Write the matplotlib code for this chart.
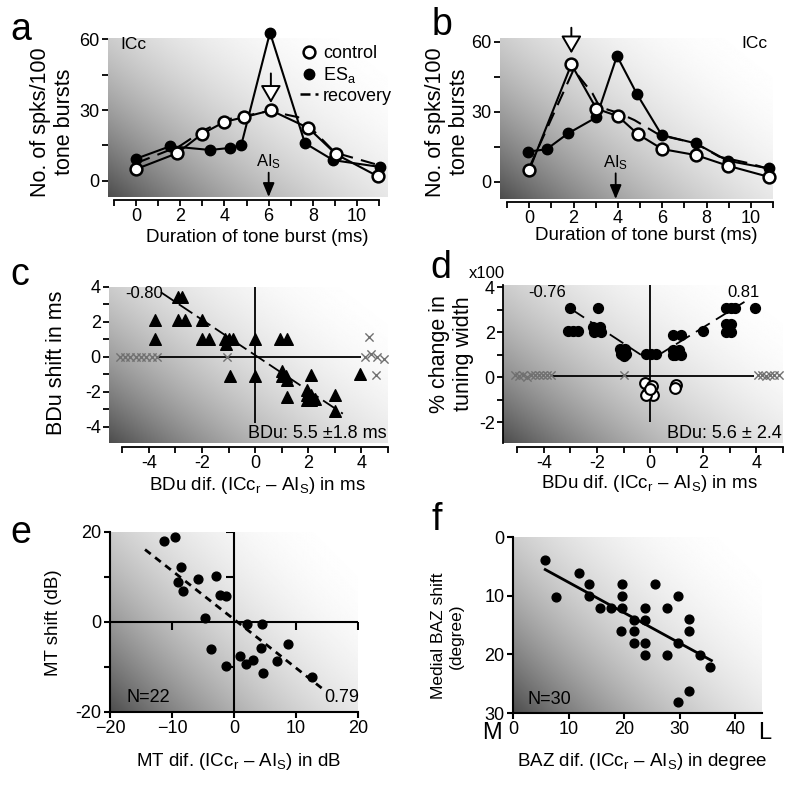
import numpy as np
import matplotlib
matplotlib.use('Agg')
import matplotlib.pyplot as plt
from matplotlib.lines import Line2D

plt.rcParams['font.family'] = 'Liberation Sans'
plt.rcParams['mathtext.fontset'] = 'custom'
plt.rcParams['mathtext.rm'] = 'Liberation Sans'
plt.rcParams['mathtext.it'] = 'Liberation Sans:italic'
plt.rcParams['mathtext.bf'] = 'Liberation Sans:bold'

# ---- panel a: tuning curves (spikes per 100 tone bursts vs duration)
a_x_ctrl = [0, 1.85, 3, 4, 4.9, 6.1, 7.8, 9.05, 10.95]
a_y_ctrl = [5, 11.7, 20, 25, 27, 29.9, 22.4, 11.3, 1.9]
a_x_es = [0, 1.55, 3.35, 4.27, 4.76, 6.06, 7.64, 8.92, 11.05]
a_y_es = [9.4, 14.7, 13.1, 14, 15.2, 62.8, 16, 8.8, 5.9]
a_x_rec = [0, 2.0, 3.05, 4.1, 5.07, 6.02, 7.33, 7.8, 9.0, 10.9]
a_y_rec = [7.5, 14.9, 21.4, 26, 27.8, 29.6, 27, 23.5, 12, 6.9]
a_best = 6.1          # open arrow (best duration)
a_best_y = [45.5, 33]
a_ais = 6.0           # AIs best duration
a_ais_y = [3.5, -6.8]

# ---- panel b
b_x_ctrl = [0, 1.9, 3.03, 4.0, 4.9, 6.0, 7.53, 8.95, 10.8]
b_y_ctrl = [5, 50.3, 31.3, 28.1, 20.4, 14, 11.4, 6.9, 2.1]
b_x_es = [-0.07, 0.78, 1.75, 3.03, 3.96, 4.87, 5.98, 7.53, 8.95, 10.8]
b_y_es = [12.9, 13.9, 20.7, 27.6, 53.9, 37.4, 20, 16.4, 9, 5.7]
b_x_rec = [0, 2.0, 2.85, 3.18, 4.08, 4.75, 5.88, 7.5, 8.58, 9.93, 10.8]
b_y_rec = [6, 48, 37.9, 32, 29.3, 26.4, 20, 16.5, 10.7, 7.9, 5.5]
b_best = 1.9
b_best_y = [66, 55]
b_ais = 3.9
b_ais_y = [3.6, -7.4]

# ---- panel c: BDu shift vs BDu difference
c_x_tri = [-3.75, -3.75, -2.9, -2.75, -2.9, -2.65, -2.0, -2.0, -1.75, -1.15, -1.0,
           -0.85, -1.1, -0.95, 0.0, 0.0, 0.95, 1.2, 1.0, 1.0, 1.15, 1.2, 1.2,
           1.95, 2.1, 1.95, 2.1, 1.95, 2.1, 2.25, 3.0, 3.0, 3.95]
c_y_tri = [2.1, 1.0, 3.4, 3.4, 2.1, 2.1, 2.1, 1.05, 1.05, 1.05, 1.05,
           1.05, 0.75, -1.1, 1.0, -1.1, 1.0, 1.0, -0.8, -1.1, -1.1, -1.35, -2.3,
           -1.9, -1.05, -2.2, -2.2, -2.45, -2.45, -2.4, -2.2, -3.1, -1.0]
c_x_cross = [-5.1, -4.9, -4.7, -4.5, -4.3, -4.1, -3.9, -3.7, -1.05,
             4.15, 4.35, 4.6, 4.85, 4.3, 4.55]
c_y_cross = [0, 0, 0, 0, 0, 0, 0, 0, 0, 0, 0.15, 0, -0.1, 1.15, -1.05]
c_fit_x = [-3.55, 3.3]
c_fit_y = [3.7, -3.25]

# ---- panel d: % change in tuning width
d_x_fill = [-3.0, -1.96, -3.1, -2.9, -2.7, -2.15, -1.9, -2.1, -1.85, -2.0,
            -1.15, -0.95, -1.1, -0.9, -1.0, -0.15, 0.04, 0.22, 0.85, 1.15,
            0.85, 1.1, 0.95, 0.85, 1.15, 2.0, 2.85, 3.05, 3.2, 2.85, 3.05,
            2.95, 2.85, 3.05, 3.95]
d_y_fill = [3.1, 3.1, 2.05, 2.05, 2.05, 2.25, 2.25, 2.0, 2.0, 2.15,
            1.25, 1.25, 1.05, 1.05, 0.95, 1.05, 1.05, 1.05, 1.9, 1.9,
            1.2, 1.2, 1.0, 1.0, 1.0, 2.05, 3.1, 3.1, 3.1, 2.35, 2.35,
            2.15, 2.0, 2.0, 3.1]
d_x_open = [-0.2, 0.05, -0.1, 0.1, -0.15, 0.0, 0.97, 0.95]
d_y_open = [-0.27, -0.4, -0.64, -0.79, -0.79, -0.5, -0.34, -0.49]
d_x_cross = [-5.1, -4.95, -4.8, -4.65, -4.5, -4.35, -4.2, -4.05, -3.9, -3.75,
             -1.0, 4.05, 4.2, 4.35, 4.5, 4.65, 4.85]
d_y_cross = [0.12, 0.05, 0.1, 0.0, 0.1, 0.08, 0.1, 0.1, 0.1, 0.1,
             0.08, 0.1, 0.1, 0.05, 0.1, 0.1, 0.08]
d_fit_lx = [-3.0, -0.35]
d_fit_ly = [3.05, 1.0]
d_fit_rx = [0.22, 3.55]
d_fit_ry = [0.92, 3.35]

# ---- panel e: MT shift vs MT difference
e_x = [-11.3, -9.5, -8.5, -9.1, -8.3, -5.8, -2.85, -2.3, -1.24, -4.7, -3.66,
       -1.24, 0.97, 2.04, 1.94, 3.0, 4.5, 4.4, 4.6, 6.9, 8.7, 12.5]
e_y = [18, 19, 12.2, 8.9, 7.0, 9.6, 10.2, 6.1, 5.8, 1.0, -6,
       -9.85, -7.6, -0.5, -9.3, -8.4, -0.5, -5.7, -11.3, -8.7, -4.8, -12.2]
e_fit_x = [-14.35, 14.25]
e_fit_y = [16.1, -14.8]

# ---- panel f: medial BAZ shift vs BAZ difference
f_x = [5.7, 7.7, 11.8, 13.7, 13.7, 15.7, 17.6, 19.7, 19.7, 19.7, 19.5, 21.7,
       21.7, 21.7, 23.7, 23.7, 23.7, 23.7, 25.6, 27.7, 27.7, 29.6, 29.6, 29.6,
       31.7, 31.7, 31.7, 33.7, 35.5]
f_y = [4.0, 10.2, 6.1, 8.0, 10.1, 12.1, 12.1, 8.0, 10.1, 12.1, 16.1, 14.1,
       16.1, 18.1, 12.1, 14.1, 18.1, 20.1, 8.0, 12.1, 20.1, 10.1, 18.1, 28.1,
       14.0, 16.1, 26.2, 20.1, 22.2]
f_fit_x = [5.8, 35.7]
f_fit_y = [5.55, 21.05]

W, H = 800, 788
fig = plt.figure(figsize=(8, 7.88), dpi=100)


def box(l, t, r, b):
    return fig.add_axes([l / W, 1 - b / H, (r - l) / W, (b - t) / H])


def shade(ax):
    # dark bottom-left corner fading smoothly to white at top-right
    u, w = np.meshgrid(np.linspace(0, 1, 300), np.linspace(0, 1, 300))
    d = 0.58 * (1 - u) + 0.42 * (1 - w)
    g = 1 - 0.7 * d ** 2.3
    ax.imshow(g, extent=[0, 1, 0, 1], transform=ax.transAxes, origin='lower',
              cmap='gray', vmin=0, vmax=1, aspect='auto', zorder=0,
              interpolation='bilinear')


def ftext(x, y, s, **kw):
    fig.text(x / W, 1 - y / H, s, **kw)


SUB = 'ICc$_\\mathrm{r}$ \u2013 AI$_\\mathrm{S}$'


def tuning(ax, xc, yc, xe, ye, xr, yr, xlim, ylim, best, best_y, ais, ais_y):
    shade(ax)
    ax.plot(xr, yr, color='black', lw=1.5, dashes=(7, 4), zorder=2, clip_on=False)
    ax.plot(xe, ye, color='black', lw=1.5, marker='o', ms=7.5, zorder=3, clip_on=False)
    ax.plot(xc, yc, color='black', lw=1.5, marker='o', ms=8.5, mfc='white',
            mec='black', mew=1.8, zorder=4, clip_on=False)
    ax.annotate('', xy=(best, best_y[1]), xytext=(best, best_y[0]),
                arrowprops=dict(arrowstyle='-|>,head_width=0.35,head_length=0.6',
                                facecolor='white', edgecolor='black', lw=1.4,
                                mutation_scale=18, shrinkA=0, shrinkB=0),
                annotation_clip=False, zorder=5)
    ax.annotate('', xy=(ais, ais_y[1]), xytext=(ais, ais_y[0]),
                arrowprops=dict(arrowstyle='-|>,head_width=0.25,head_length=0.6',
                                facecolor='black', edgecolor='black', lw=1.3,
                                mutation_scale=14, shrinkA=0, shrinkB=0), zorder=5)
    ax.text(ais, ais_y[0] + 4.5, 'AI$_\\mathrm{S}$', ha='center', va='center', fontsize=12)
    ax.set_xlim(*xlim)
    ax.set_ylim(*ylim)
    for s in ['top', 'right', 'left']:
        ax.spines[s].set_visible(False)
    ax.spines['bottom'].set_position(('outward', 2))
    ax.spines['bottom'].set_bounds(-1, 11)
    ax.spines['bottom'].set_linewidth(1.3)
    ax.set_xticks(range(-1, 12))
    ax.set_xticklabels(['' if v % 2 else str(v) for v in range(-1, 12)])
    ax.set_yticks([0, 15, 30, 45, 60])
    ax.set_yticklabels(['0', '', '30', '', '60'])
    ax.tick_params(direction='out', length=4, width=1.3, labelsize=13, pad=2)


# ---------------- a
ax = box(108, 38, 388, 197)
tuning(ax, a_x_ctrl, a_y_ctrl, a_x_es, a_y_es, a_x_rec, a_y_rec,
       (-1.27, 11.4), (-6.8, 60.5), a_best, a_best_y, a_ais, a_ais_y)
ax.text(0.043, 0.962, 'ICc', transform=ax.transAxes, va='center', fontsize=12.5)
handles = [Line2D([], [], ls='', marker='o', ms=8.5, mfc='white', mec='black', mew=1.8),
           Line2D([], [], ls='', marker='o', ms=7.5, color='black'),
           Line2D([], [], color='black', lw=1.8, dashes=(4, 2))]
ax.legend(handles, ['control', 'ES$_\\mathrm{a}$', 'recovery'], loc='upper right',
          bbox_to_anchor=(1.04, 1.0), frameon=False, fontsize=13, handlelength=1.0,
          handletextpad=0.3, labelspacing=0.15, borderaxespad=0)
ftext(52.5, 122, 'No. of spks/100\ntone bursts', rotation=90, ha='center', va='center',
      fontsize=15.5, linespacing=1.15)
ftext(257, 238, 'Duration of tone burst (ms)', ha='center', va='center', fontsize=13.5)

# ---------------- b
ax = box(500, 38, 773, 199)
tuning(ax, b_x_ctrl, b_y_ctrl, b_x_es, b_y_es, b_x_rec, b_y_rec,
       (-1.32, 11.0), (-7.4, 61.6), b_best, b_best_y, b_ais, b_ais_y)
ax.text(0.98, 0.963, 'ICc', transform=ax.transAxes, ha='right', va='center', fontsize=12.5)
ftext(447.5, 122, 'No. of spks/100\ntone bursts', rotation=90, ha='center', va='center',
      fontsize=15.5, linespacing=1.15)
ftext(646, 236, 'Duration of tone burst (ms)', ha='center', va='center', fontsize=13.5)


def scatter_axes(ax, xlim, ylim, yticks):
    ax.set_xlim(*xlim)
    ax.set_ylim(*ylim)
    for s in ['top', 'right']:
        ax.spines[s].set_visible(False)
    ax.spines['bottom'].set_position(('outward', 3))
    ax.spines['bottom'].set_bounds(-5, 5)
    ax.spines['bottom'].set_linewidth(1.3)
    ax.spines['left'].set_linewidth(1.3)
    ax.set_xticks(range(-5, 6))
    ax.set_xticklabels(['' if v % 2 else str(v) for v in range(-5, 6)])
    ax.set_yticks(yticks)
    ax.set_yticklabels(['' if v % 2 else str(v) for v in yticks])
    ax.tick_params(direction='out', length=4, width=1.3, labelsize=13, pad=2)


# ---------------- c
ax = box(109, 287, 388, 443)
shade(ax)
ax.vlines(0, -3.8, 4.0, color='black', lw=1.3, zorder=2)
ax.hlines(0, -3.7, 4.0, color='black', lw=1.3, zorder=2)
ax.plot(c_fit_x, c_fit_y, color='black', lw=1.3, dashes=(9, 3), zorder=2)
ax.scatter(c_x_cross, c_y_cross, marker='x', s=35, color='#707070', lw=1.0, zorder=3,
           clip_on=False)
ax.scatter(c_x_tri, c_y_tri, marker='^', s=70, color='black', zorder=4, clip_on=False)
scatter_axes(ax, (-5.5, 5.0), (-4.93, 4.0), range(-4, 5))
ax.spines['left'].set_visible(False)
ax.text(0.057, 0.96, '-0.80', transform=ax.transAxes, va='center', fontsize=12)
ax.text(0.995, 0.064, 'BDu: 5.5 \u00b11.8 ms', transform=ax.transAxes, ha='right',
        va='center', fontsize=13)
ftext(57, 363, 'BDu shift in ms', rotation=90, ha='center', va='center', fontsize=15.5)
ftext(257, 486, 'BDu dif. (' + SUB + ') in ms', ha='center', va='center', fontsize=13.5)

# ---------------- d
ax = box(503, 285, 783, 443)
shade(ax)
ax.vlines(0, -2.0, 4.1, color='black', lw=1.3, zorder=2)
ax.hlines(0.05, -3.7, 3.9, color='black', lw=1.3, zorder=2)
ax.plot(d_fit_lx, d_fit_ly, color='black', lw=1.3, dashes=(9, 4), zorder=2)
ax.plot(d_fit_rx, d_fit_ry, color='black', lw=1.3, dashes=(9, 4), zorder=2)
ax.scatter(d_x_cross, d_y_cross, marker='x', s=35, color='#707070', lw=1.0, zorder=3,
           clip_on=False)
ax.scatter(d_x_fill, d_y_fill, marker='o', s=50, color='black', zorder=4, clip_on=False)
ax.scatter(d_x_open, d_y_open, marker='o', s=60, facecolor='white', edgecolor='black',
           lw=1.5, zorder=4)
scatter_axes(ax, (-5.54, 5.0), (-2.92, 4.1), range(-2, 5))
ax.text(0.09, 0.95, '-0.76', transform=ax.transAxes, va='center', fontsize=12)
ax.text(0.8, 0.95, '0.81', transform=ax.transAxes, va='center', fontsize=12)
ax.text(0.995, 0.063, 'BDu: 5.6 \u00b1 2.4', transform=ax.transAxes, ha='right',
        va='center', fontsize=13)
ftext(487, 273, 'x100', ha='center', va='center', fontsize=12)
ftext(451.5, 354, '% change in\ntuning width', rotation=90, ha='center', va='center',
      fontsize=15.5, linespacing=1.15)
ftext(649, 484, 'BDu dif. (' + SUB + ') in ms', ha='center', va='center', fontsize=13.5)

# ---------------- e
ax = box(110, 532, 358, 712)
shade(ax)
ax.hlines(0, -20, 20, color='black', lw=1.5, zorder=2)
ax.vlines(0, -20, 20, color='black', lw=1.5, zorder=2)
e_ticks = [-10, 10, 20]
ax.plot(e_ticks, [0] * len(e_ticks), ls='', marker=3, ms=6, mew=1.5, color='black')
ax.plot([0] * len(e_ticks), e_ticks, ls='', marker=0, ms=6, mew=1.5, color='black')
ax.plot(e_fit_x, e_fit_y, color='black', lw=2.0, dashes=(2.6, 2), zorder=2)
ax.scatter(e_x, e_y, marker='o', s=40, color='black', zorder=4)
ax.set_xlim(-20, 20)
ax.set_ylim(-20, 20)
for s in ['top', 'right']:
    ax.spines[s].set_visible(False)
for s in ['left', 'bottom']:
    ax.spines[s].set_linewidth(1.5)
ax.set_xticks([-20, -10, 0, 10, 20])
ax.set_yticks([-20, -10, 0, 10, 20])
ax.set_yticklabels(['-20', '', '0', '', '20'])
ax.tick_params(direction='out', length=4, width=1.5, labelsize=13, pad=2)
ax.text(0.068, 0.082, 'N=22', transform=ax.transAxes, va='center', fontsize=13)
ax.text(1.005, 0.082, '0.79', transform=ax.transAxes, ha='right', va='center', fontsize=13)
ftext(53, 623, 'MT shift (dB)', rotation=90, ha='center', va='center', fontsize=13.5)
ftext(239, 762, 'MT dif. (' + SUB + ') in dB', ha='center', va='center', fontsize=13.5)

# ---------------- f
ax = box(513, 537, 762, 713)
shade(ax)
ax.plot(f_fit_x, f_fit_y, color='black', lw=2.0, zorder=2)
ax.scatter(f_x, f_y, marker='o', s=40, color='black', zorder=4)
ax.set_xlim(0, 44.8)
ax.set_ylim(30, 0)
for s in ['top', 'right']:
    ax.spines[s].set_visible(False)
for s in ['left', 'bottom']:
    ax.spines[s].set_linewidth(1.5)
ax.set_xticks([0, 10, 20, 30, 40])
ax.set_yticks([0, 10, 20, 30])
ax.tick_params(direction='out', length=4, width=1.5, labelsize=13, pad=2)
ax.text(0.06, 0.074, 'N=30', transform=ax.transAxes, va='center', fontsize=13)
ax.text(-0.084, -0.114, 'M', transform=ax.transAxes, ha='center', va='center', fontsize=17)
ax.text(1.012, -0.114, 'L', transform=ax.transAxes, ha='center', va='center', fontsize=17)
ftext(447.5, 636, 'Medial BAZ shift\n(degree)', rotation=90, ha='center', va='center',
      fontsize=12.5, linespacing=1.25)
ftext(642, 762, 'BAZ dif. (' + SUB + ') in degree', ha='center', va='center', fontsize=13.5)

# panel letters
for lab, x, y in [('a', 10, 40), ('b', 432, 35), ('c', 10, 285),
                  ('d', 430, 278), ('e', 10, 543), ('f', 432, 530)]:
    ftext(x, y, lab, fontsize=27, va='baseline')

fig.savefig('out.png', dpi=100)
